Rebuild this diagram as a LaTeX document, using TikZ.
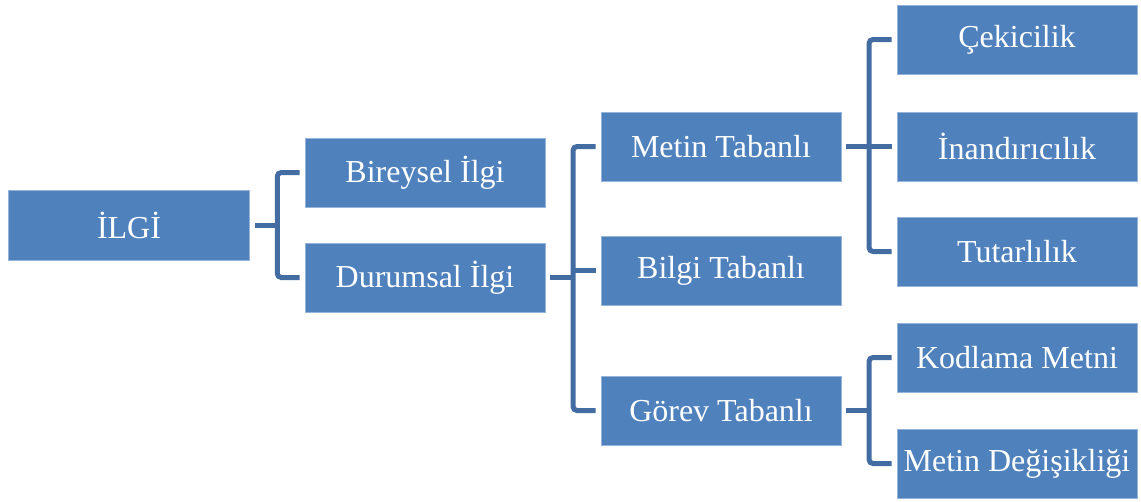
\documentclass[tikz,border=0pt]{standalone}
\usepackage{fontspec}
\setmainfont{Liberation Serif}
\usetikzlibrary{calc}

\definecolor{boxblue}{RGB}{79,129,189}
\definecolor{boxedge}{RGB}{150,180,215}
\definecolor{linkblue}{RGB}{67,108,163}

\tikzset{
  box/.style={rectangle, fill=boxblue, draw=boxedge, line width=0.8pt,
    minimum width=240pt, minimum height=69pt, inner sep=0pt,
    text=white, font=\fontsize{32}{37}\selectfont},
  link/.style={draw=linkblue, line width=5pt, rounded corners=4pt}
}

\begin{document}
\begin{tikzpicture}[x=1pt, y=-1pt]
\useasboundingbox (0,0) rectangle (1141,501);

% level 0
\node[box, minimum width=241pt, minimum height=70pt] (ilgi) at (129,225) {İLGİ};
% level 1
\node[box] (bir) at (425,172.5) {Bireysel İlgi};
\node[box] (dur) at (425,277.5) {Durumsal İlgi};
% level 2
\node[box] (metin) at (721,146.5) {Metin Tabanlı};
\node[box] (bilgi) at (721,270.5) {Bilgi Tabanlı};
\node[box] (gorev) at (721,410.5) {Görev Tabanlı};
% level 3
\node[box] (cek) at (1017,39.5) {Çekicilik};
\node[box] (inan) at (1017,146.5) {İnandırıcılık};
\node[box] (tutar) at (1017,251.5) {Tutarlılık};
\node[box] (kod) at (1017,357.5) {Kodlama Metni};
\node[box] (mdeg) at (1017,463.5) {Metin Değişikliği};

% bracket junctions, halfway between parent and children
\coordinate (j1) at ($(ilgi.east)!0.5!(bir.west)$);
\coordinate (j2) at ($(dur.east)!0.5!(metin.west)$);
\coordinate (j3) at ($(metin.east)!0.5!(cek.west)$);
\coordinate (j4) at ($(gorev.east)!0.5!(kod.west)$);

% İLGİ -> Bireysel / Durumsal
\draw[link] ([xshift=5pt]ilgi.east) -- (ilgi.east -| j1);
\draw[link] ([xshift=-5pt]bir.west) -| (j1 |- dur.west) -- ([xshift=-5pt]dur.west);

% Durumsal -> Metin / Bilgi / Görev
\draw[link] ([xshift=5pt]dur.east) -- (dur.east -| j2);
\draw[link] ([xshift=-5pt]metin.west) -| (j2 |- gorev.west) -- ([xshift=-5pt]gorev.west);
\draw[link] (j2 |- bilgi.west) -- ([xshift=-5pt]bilgi.west);

% Metin -> Çekicilik / İnandırıcılık / Tutarlılık
\draw[link] ([xshift=5pt]metin.east) -- (metin.east -| j3);
\draw[link] ([xshift=-5pt]cek.west) -| (j3 |- tutar.west) -- ([xshift=-5pt]tutar.west);
\draw[link] (j3 |- inan.west) -- ([xshift=-5pt]inan.west);

% Görev -> Kodlama / Metin Değişikliği
\draw[link] ([xshift=5pt]gorev.east) -- (gorev.east -| j4);
\draw[link] ([xshift=-5pt]kod.west) -| (j4 |- mdeg.west) -- ([xshift=-5pt]mdeg.west);
\end{tikzpicture}
\end{document}
